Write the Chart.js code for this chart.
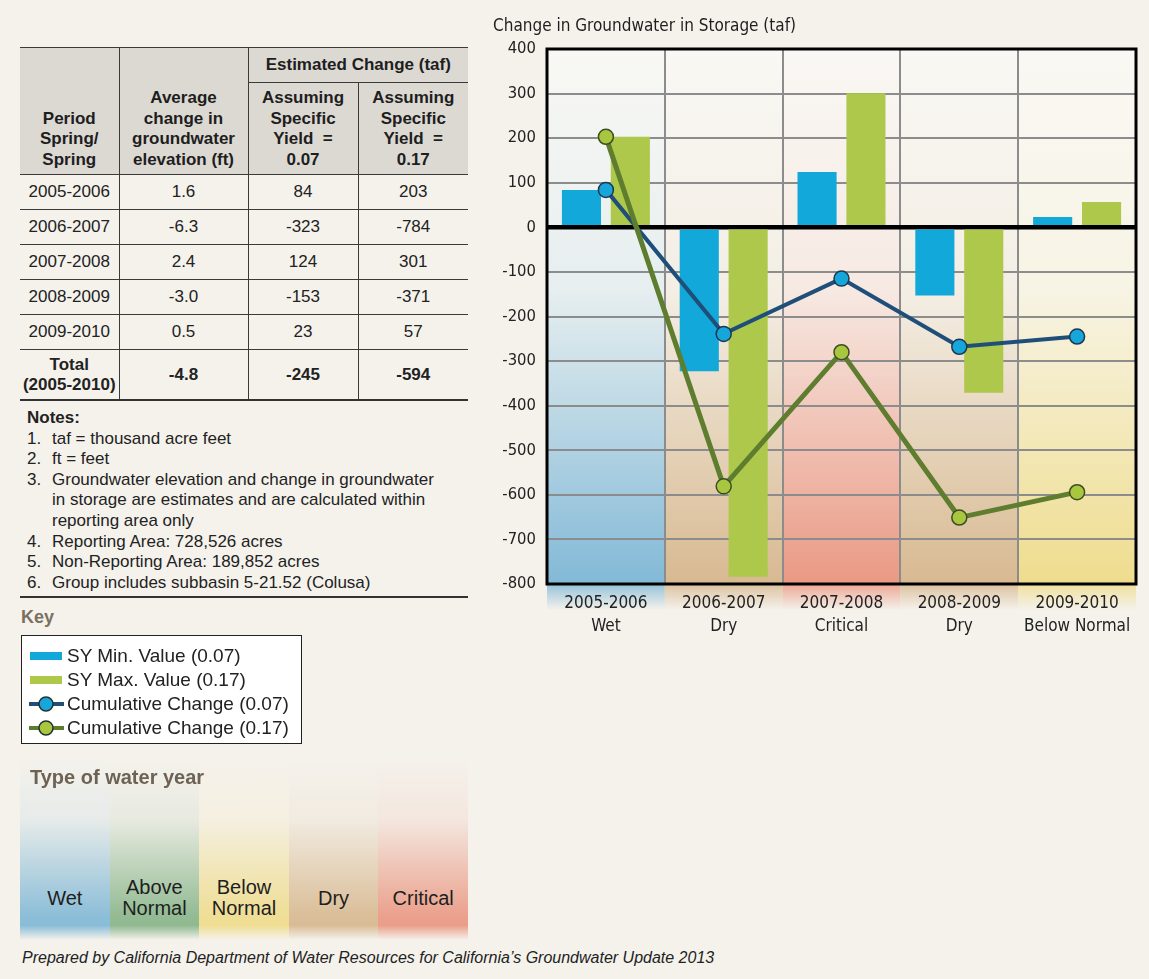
<!DOCTYPE html>
<html>
<head>
<meta charset="utf-8">
<script src="https://cdn.jsdelivr.net/npm/chart.js@4.4.0/dist/chart.umd.min.js"></script>
<style>
body { margin:0; width:1149px; height:979px; background:#f5f2ec; font-family:"Liberation Sans", Arial, sans-serif; color:#222; position:relative; overflow:hidden; }
#chartBox { position:absolute; left:490px; top:0; width:655px; height:650px; }
#tbl { position:absolute; left:20px; top:47px; width:448px; border-collapse:collapse; font-size:17px; table-layout:fixed; }
#tbl td, #tbl th { border:1.5px solid #3a3a3a; text-align:center; padding:0; }
#tbl tr > :first-child { border-left:none; }
#tbl tr > :last-child { border-right:none; }
#tbl th { background:#dcd9d3; font-weight:bold; line-height:20.5px; vertical-align:bottom; padding-bottom:4px; color:#1e1e1e; }
#tbl th.est { vertical-align:middle; padding-bottom:0; }
#tbl tr.h1 { height:35px; }
#tbl tr.h2 { height:92px; }
#tbl td { height:34px; }
#tbl tr.total td { font-weight:bold; height:49px; line-height:20px; border-bottom:2px solid #333; }
#notes { position:absolute; left:27px; top:408px; font-size:17px; line-height:20.6px; width:415px; }
#notes .n { display:flex; }
#notes .n span:first-child { width:25px; flex:none; }
#rule { position:absolute; left:20px; top:596px; width:448px; height:2px; background:#333; }
#keyTitle { position:absolute; left:21px; top:607px; font-size:18px; font-weight:bold; color:#7b6f61; }
#legend { position:absolute; left:21px; top:635px; width:281px; height:109px; box-sizing:border-box; background:#fff; border:1.5px solid #222; padding-top:8px; }
#legend .it { height:24px; display:flex; align-items:center; font-size:19px; }
#legend canvas { margin-left:7px; margin-right:3px; }
#wy { position:absolute; left:20px; top:755px; width:448px; height:185px; display:flex; }
#wy .col { flex:1; position:relative; }
#wy .lab { position:absolute; left:0; right:0; top:143px; transform:translateY(-50%); text-align:center; font-size:20px; line-height:21px; color:#1e1e1e; }
#wyTitle { position:absolute; left:30px; top:766px; font-size:20px; font-weight:bold; color:#6e6255; }
#foot { position:absolute; left:22px; top:949px; font-size:16px; font-style:italic; color:#222; }
</style>
</head>
<body>
<div id="chartBox"><canvas id="chart"></canvas></div>

<table id="tbl">
  <colgroup><col style="width:99px"><col style="width:129px"><col style="width:110px"><col style="width:110px"></colgroup>
  <thead>
    <tr class="h1">
      <th rowspan="2">Period<br>Spring/<br>Spring</th>
      <th rowspan="2">Average<br>change in<br>groundwater<br>elevation (ft)</th>
      <th colspan="2" class="est">Estimated Change (taf)</th>
    </tr>
    <tr class="h2">
      <th>Assuming<br>Specific<br>Yield&nbsp;&nbsp;=<br>0.07</th>
      <th>Assuming<br>Specific<br>Yield&nbsp;&nbsp;=<br>0.17</th>
    </tr>
  </thead>
  <tbody id="tblBody"></tbody>
</table>

<div id="notes">
  <div style="font-weight:bold">Notes:</div>
  <div class="n"><span>1.</span><span>taf = thousand acre feet</span></div>
  <div class="n"><span>2.</span><span>ft = feet</span></div>
  <div class="n"><span>3.</span><span>Groundwater elevation and change in groundwater in storage are estimates and are calculated within reporting area only</span></div>
  <div class="n"><span>4.</span><span>Reporting Area: 728,526 acres</span></div>
  <div class="n"><span>5.</span><span>Non-Reporting Area: 189,852 acres</span></div>
  <div class="n"><span>6.</span><span>Group includes subbasin 5-21.52 (Colusa)</span></div>
</div>
<div id="rule"></div>
<div id="keyTitle">Key</div>
<div id="legend"></div>

<div id="wy"></div>
<div id="wyTitle">Type of water year</div>
<div id="foot">Prepared by California Department of Water Resources for California’s Groundwater Update 2013</div>

<script>
// data
var periods = ["2005-2006", "2006-2007", "2007-2008", "2008-2009", "2009-2010"];
var yearTypes = ["Wet", "Dry", "Critical", "Dry", "Below Normal"];
var elevChange = ["1.6", "-6.3", "2.4", "-3.0", "0.5"];
var syMin = [84, -323, 124, -153, 23];
var syMax = [203, -784, 301, -371, 57];
var cumMin = [84, -239, -115, -268, -245];
var cumMax = [203, -581, -280, -651, -594];
var totals = ["-4.8", "-245", "-594"];
var yTicks = { min: -800, max: 400, step: 100 };
var waterYearKinds = ["Wet", "Above Normal", "Below Normal", "Dry", "Critical"];

var typeColors = {
    "Wet": "124,182,213",
    "Above Normal": "132,178,134",
    "Below Normal": "238,219,136",
    "Dry": "214,182,140",
    "Critical": "233,148,126"
};

var narrow = '"DejaVu Sans Condensed", "Liberation Sans", sans-serif';

// table body
var body = document.getElementById("tblBody");
periods.forEach(function(p, i) {
    var tr = document.createElement("tr");
    [p, elevChange[i], syMin[i], syMax[i]].forEach(function(v) {
        var td = document.createElement("td");
        td.textContent = v;
        tr.appendChild(td);
    });
    body.appendChild(tr);
});
var trT = document.createElement("tr");
trT.className = "total";
trT.innerHTML = "<td>Total<br>(2005-2010)</td>" + totals.map(function(t) { return "<td>" + t + "</td>"; }).join("");
body.appendChild(trT);

// water year key
var wy = document.getElementById("wy");
waterYearKinds.forEach(function(k) {
    var c = typeColors[k];
    var d = document.createElement("div");
    d.className = "col";
    d.style.background = "linear-gradient(to bottom, rgba(" + c + ",0) 0%, rgba(" + c + ",0.12) 35%, rgba(" + c + ",0.85) 86%, rgba(" + c + ",0.9) 92%, rgba(" + c + ",0) 100%)";
    d.innerHTML = '<div class="lab">' + k.replace(" ", "<br>") + "</div>";
    wy.appendChild(d);
});

// key / legend
var keyItems = [
    { label: "SY Min. Value (0.07)", kind: "bar", color: "#12a8da" },
    { label: "SY Max. Value (0.17)", kind: "bar", color: "#adc84a" },
    { label: "Cumulative Change (0.07)", kind: "line", color: "#1f4e79", fill: "#17a6da" },
    { label: "Cumulative Change (0.17)", kind: "line", color: "#5e7d2f", fill: "#a9c63f" }
];
var legend = document.getElementById("legend");
keyItems.forEach(function(it) {
    var row = document.createElement("div");
    row.className = "it";
    var cv = document.createElement("canvas");
    cv.width = 35; cv.height = 20;
    var c = cv.getContext("2d");
    if (it.kind === "bar") {
        c.fillStyle = it.color;
        c.fillRect(1, 6, 32, 8);
    } else {
        c.strokeStyle = it.color;
        c.lineWidth = 4;
        c.beginPath(); c.moveTo(0, 10); c.lineTo(35, 10); c.stroke();
        c.beginPath(); c.arc(17, 10, 7, 0, Math.PI * 2);
        c.fillStyle = it.fill; c.fill();
        c.lineWidth = 1.5; c.strokeStyle = "#233"; c.stroke();
    }
    row.appendChild(cv);
    var s = document.createElement("span");
    s.textContent = it.label;
    row.appendChild(s);
    legend.appendChild(row);
});

// chart plugins
var yearBands = {
    id: "yearBands",
    beforeDraw: function(chart) {
        var ctx = chart.ctx, a = chart.chartArea, x = chart.scales.x;
        var w = a.width / periods.length;
        ctx.save();
        ctx.fillStyle = "#f9f8f4";
        ctx.fillRect(a.left, a.top, a.width, a.height);
        yearTypes.forEach(function(t, i) {
            var cx = x.getPixelForValue(i);
            var c = typeColors[t];
            var g = ctx.createLinearGradient(0, a.top, 0, a.bottom);
            g.addColorStop(0, "rgba(" + c + ",0)");
            g.addColorStop(0.45, "rgba(" + c + ",0.15)");
            g.addColorStop(1, "rgba(" + c + ",0.95)");
            ctx.fillStyle = g;
            ctx.fillRect(cx - w / 2, a.top, w, a.height);
            g = ctx.createLinearGradient(0, a.bottom, 0, a.bottom + 26);
            g.addColorStop(0, "rgba(" + c + ",0.8)");
            g.addColorStop(1, "rgba(" + c + ",0)");
            ctx.fillStyle = g;
            ctx.fillRect(cx - w / 2, a.bottom, w, 26);
        });
        ctx.restore();
    },
    afterDraw: function(chart) {
        var ctx = chart.ctx, a = chart.chartArea;
        ctx.save();
        ctx.strokeStyle = "#000";
        ctx.lineWidth = 3;
        ctx.strokeRect(a.left, a.top, a.width, a.height);
        ctx.restore();
    }
};

var ctx = document.getElementById("chart").getContext("2d");
var chart = new Chart(ctx, {
    type: "bar",
    data: {
        labels: periods.map(function(p, i) { return [p, yearTypes[i]]; }),
        datasets: [
            { type: "line", label: "Cumulative Change (0.17)", data: cumMax, order: 0,
              borderColor: "#5e7d2f", borderWidth: 5, pointRadius: 7.5, pointBackgroundColor: "#a9c63f",
              pointBorderColor: "#3c4d22", pointBorderWidth: 1.5 },
            { type: "line", label: "Cumulative Change (0.07)", data: cumMin, order: 1,
              borderColor: "#1f4e79", borderWidth: 4, pointRadius: 7.5, pointBackgroundColor: "#17a6da",
              pointBorderColor: "#1f3650", pointBorderWidth: 1.5 },
            { label: "SY Min. Value (0.07)", data: syMin, backgroundColor: "#12a8da", order: 2,
              categoryPercentage: 0.83, barPercentage: 0.8 },
            { label: "SY Max. Value (0.17)", data: syMax, backgroundColor: "#adc84a", order: 2,
              categoryPercentage: 0.83, barPercentage: 0.8 }
        ]
    },
    options: {
        responsive: true,
        maintainAspectRatio: false,
        animation: false,
        layout: { padding: { left: 3, right: 8, top: 0, bottom: 0 } },
        plugins: {
            legend: { display: false },
            tooltip: { enabled: false },
            title: {
                display: true,
                text: "Change in Groundwater in Storage (taf)",
                align: "start",
                color: "#1e1e1e",
                font: { family: narrow, size: 17, weight: "normal" },
                padding: { top: 16, bottom: 12.6 }
            }
        },
        scales: {
            x: {
                grid: { color: "#8c8c8c", lineWidth: 2, drawTicks: false, offset: true },
                border: { display: false },
                ticks: { color: "#222", font: { family: narrow, size: 17, lineHeight: 1.35 },
                         padding: 8, maxRotation: 0, minRotation: 0, autoSkip: false },
                afterFit: function(s) { s.height = 66; }
            },
            y: {
                min: yTicks.min,
                max: yTicks.max,
                grid: {
                    color: function(c) { return c.tick && c.tick.value === 0 ? "#000" : "#8c8c8c"; },
                    lineWidth: function(c) { return c.tick && c.tick.value === 0 ? 4.5 : 2; },
                    drawTicks: false
                },
                border: { display: false },
                ticks: { stepSize: yTicks.step, color: "#222", font: { family: narrow, size: 16.5 }, padding: 11 },
                afterFit: function(s) { s.width = 54; }
            }
        }
    },
    plugins: [yearBands]
});
</script>
</body>
</html>
